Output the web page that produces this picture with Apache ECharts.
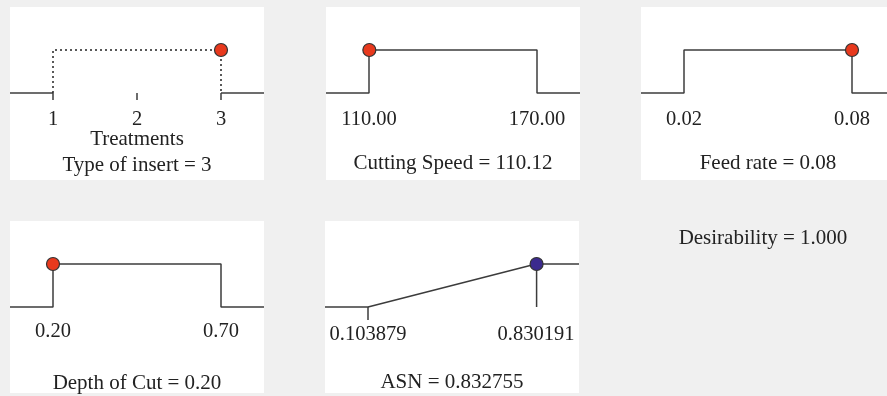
<!DOCTYPE html>
<html>
<head>
<meta charset="utf-8">
<script src="https://cdn.jsdelivr.net/npm/echarts@6/dist/echarts.min.js"></script>
<style>
html,body{margin:0;padding:0;background:#f0f0f0;}
#chart{width:887px;height:396px;}
</style>
</head>
<body>
<div id="chart"></div>
<script>
// ---- data ----
const insertRange = [1, 3];
const insertTicks = [1, 2, 3];
const insertTickLabels = ['1', '2', '3'];
const insertValue = 3;

const speedRange = [110, 170];
const speedTickLabels = ['110.00', '170.00'];
const speedValue = 110.12;

const feedRange = [0.02, 0.08];
const feedTickLabels = ['0.02', '0.08'];
const feedValue = 0.08;

const depthRange = [0.20, 0.70];
const depthTickLabels = ['0.20', '0.70'];
const depthValue = 0.20;

const asnRange = [0.103879, 0.830191];
const asnTickLabels = ['0.103879', '0.830191'];
const asnValue = 0.832755;

const factorDesirability = [1, 1, 1, 1, 1];
const overallDesirability = 1.000;

// ---- layout ----
const FONT = 'Liberation Serif';
const TXT = '#222';
const LINE = '#3c3c3c';
const PADL = 43 / 168, PADR = 43 / 168;
const W = 254;

// panel rect (white) and baseline y
const panels = [
  {x: 10,  y: 7,   h: 173, base: 93,  range: insertRange, ticks: insertTicks, labels: insertTickLabels, tickVals: insertTicks, tickLen: 7, margin: 16},
  {x: 326, y: 7,   h: 173, base: 93,  range: speedRange, ticks: speedRange, labels: speedTickLabels, tickVals: [], tickLen: 0, margin: 16},
  {x: 641, y: 7,   h: 173, base: 93,  range: feedRange, ticks: feedRange, labels: feedTickLabels, tickVals: [], tickLen: 0, margin: 16},
  {x: 10,  y: 221, h: 172, base: 307, range: depthRange, ticks: depthRange, labels: depthTickLabels, tickVals: [], tickLen: 0, margin: 14},
  {x: 325, y: 221, h: 172, base: 307, range: asnRange, ticks: asnRange, labels: asnTickLabels, tickVals: [asnRange[0]], tickLen: 13, margin: 17}
];
const UNIT = 43; // px per desirability unit

const grid = [], xAxis = [], yAxis = [], series = [], graphic = [];
panels.forEach((p, i) => {
  const r = p.range[1] - p.range[0];
  p.xmin = p.range[0] - PADL * r;
  p.xmax = p.range[1] + PADR * r;
  graphic.push({type: 'rect', silent: true, z: 0, shape: {x: p.x, y: p.y, width: W, height: p.h}, style: {fill: '#ffffff'}});
  const gh = p.base - p.y;
  grid.push({left: p.x, top: p.y, width: W, height: gh, show: false, outerBoundsMode: 'none', containLabel: false});
  const labelMap = {};
  p.ticks.forEach((t, k) => { labelMap[t] = p.labels[k]; });
  xAxis.push({
    type: 'value', gridIndex: i, min: p.xmin, max: p.xmax, position: 'bottom',
    splitLine: {show: false},
    axisLine: {show: false, onZero: false},
    axisTick: {show: p.tickVals.length > 0, length: p.tickLen, customValues: p.tickVals, lineStyle: {color: LINE, width: 1.5}},
    axisLabel: {show: true, customValues: p.ticks, margin: p.margin, fontFamily: FONT, fontSize: 20.5, color: TXT,
      formatter: v => { for (const k in labelMap) { if (Math.abs(+k - v) < 1e-9) return labelMap[k]; } return ''; },
      showMinLabel: true, showMaxLabel: true, hideOverlap: false}
  });
  yAxis.push({type: 'value', gridIndex: i, min: 0, max: gh / UNIT, show: false, splitLine: {show: false}});
});

const solid = {color: LINE, width: 1.5};
function line(i, data, style) {
  series.push({type: 'line', xAxisIndex: i, yAxisIndex: i, data: data, symbol: 'none', lineStyle: style, silent: true, animation: false, clip: false, z: 2});
}
function dot(i, x, y, color) {
  series.push({type: 'scatter', xAxisIndex: i, yAxisIndex: i, data: [[x, y]], symbolSize: 13, clip: false,
    itemStyle: {color: color, borderColor: '#333', borderWidth: 1.2, opacity: 1}, animation: false, z: 5});
}

// Panel 1: categorical factor (dotted)
{
  const p = panels[0];
  line(0, [[p.xmin, 0], [insertRange[0], 0]], solid);
  line(0, [[insertRange[1], 0], [p.xmax, 0]], solid);
  line(0, [[insertRange[0], 0], [insertRange[0], 1], [insertRange[1], 1], [insertRange[1], 0]], {color: '#222', width: 1.5, type: [2, 3]});
  dot(0, insertValue, factorDesirability[0], '#e8391d');
}
// Panels 2-4: step ramps
[[1, speedRange, speedValue], [2, feedRange, feedValue], [3, depthRange, depthValue]].forEach(([i, rg, v]) => {
  const p = panels[i];
  line(i, [[p.xmin, 0], [rg[0], 0], [rg[0], 1], [rg[1], 1], [rg[1], 0], [p.xmax, 0]], solid);
  dot(i, v, factorDesirability[i], '#e8391d');
});
// Panel 5: maximize ramp
{
  const p = panels[4];
  line(4, [[p.xmin, 0], [asnRange[0], 0], [asnRange[1], 1], [p.xmax, 1]], solid);
  line(4, [[asnValue, 0], [asnValue, factorDesirability[4]]], solid);
  dot(4, asnValue, factorDesirability[4], '#3b2a8e');
}

function txt(x, y, s) {
  return {type: 'text', x: x, y: y, silent: true, z: 10,
    style: {text: s, fontFamily: FONT, fontSize: 21, fill: TXT, align: 'center', verticalAlign: 'middle'}};
}
graphic.push(
  txt(137, 139, 'Treatments'),
  txt(137, 165, 'Type of insert = ' + insertValue),
  txt(453, 163, 'Cutting Speed = ' + speedValue.toFixed(2)),
  txt(768, 163, 'Feed rate = ' + feedValue.toFixed(2)),
  txt(137, 383, 'Depth of Cut = ' + depthValue.toFixed(2)),
  txt(452, 382, 'ASN = ' + asnValue.toFixed(6)),
  txt(763, 238, 'Desirability = ' + overallDesirability.toFixed(3))
);

const chart = echarts.init(document.getElementById('chart'), null, {renderer: 'canvas'});
chart.setOption({
  backgroundColor: '#f0f0f0',
  animation: false,
  grid, xAxis, yAxis, series,
  graphic: {elements: graphic}
});
</script>
</body>
</html>
